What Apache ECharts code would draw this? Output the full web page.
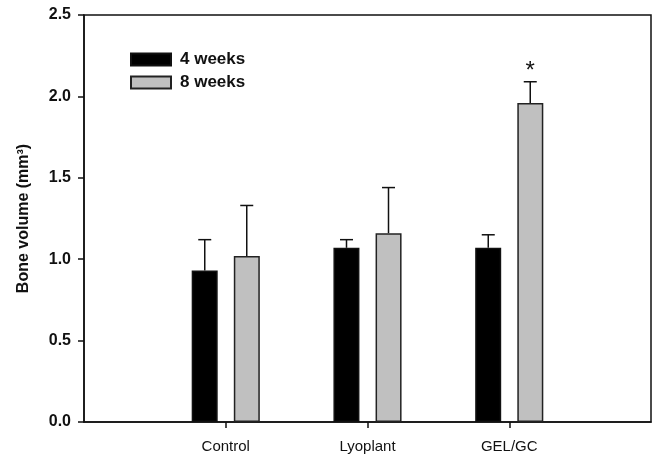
<!DOCTYPE html>
<html>
<head>
<meta charset="utf-8">
<script src="https://cdn.jsdelivr.net/npm/echarts@6/dist/echarts.min.js"></script>
<style>html,body{margin:0;padding:0;background:#fff}#chart{width:657px;height:455px}</style>
</head>
<body>
<div id="chart"></div>
<script>
// ---- data ----
var categories = ['Control', 'Lyoplant', 'GEL/GC'];
var seriesNames = ['4 weeks', '8 weeks'];
var weeks4 = [0.93, 1.07, 1.07];
var weeks4Err = [0.19, 0.05, 0.08];
var weeks8 = [1.02, 1.16, 1.96];
var weeks8Err = [0.31, 0.28, 0.13];
var weeks8Sig = ['', '', '*'];
var yTicks = [0, 0.5, 1.0, 1.5, 2.0, 2.5];

var FONT = '"Liberation Sans", Arial, sans-serif';
var axisData = [''].concat(categories, ['']);
function pad(a) { return [null].concat(a, [null]); }

var BAR_W = 26, GAP = '62%';
var offsetPx = 21;

function errSeries(vals, errs, sign, sig) {
  var data = vals.map(function (v, i) { return [i + 1, v, v + errs[i], sig ? sig[i] : '']; });
  return {
    type: 'custom',
    silent: true,
    z: 5,
    data: data,
    renderItem: function (params, api) {
      var x = api.value(0), top = api.value(2), base = api.value(1);
      var pTop = api.coord([x, top]);
      var pBase = api.coord([x, base]);
      var cx = pTop[0] + sign * offsetPx;
      var children = [
        { type: 'line', shape: { x1: cx, y1: pBase[1], x2: cx, y2: pTop[1] }, style: { stroke: '#111', lineWidth: 1.5 } },
        { type: 'line', shape: { x1: cx - 6.5, y1: pTop[1], x2: cx + 6.5, y2: pTop[1] }, style: { stroke: '#111', lineWidth: 1.5 } }
      ];
      var s = api.value(3);
      if (s) {
        children.push({ type: 'text', style: { text: s, x: cx, y: pTop[1] + 2, align: 'center', verticalAlign: 'bottom', fontSize: 24, fontFamily: FONT, fill: '#111' } });
      }
      return { type: 'group', children: children };
    }
  };
}

var chart = echarts.init(document.getElementById('chart'), null, { renderer: 'canvas' });
chart.setOption({
  animation: false,
  backgroundColor: '#fff',
  grid: { left: 84, right: 6, top: 15, bottom: 33, show: true, borderColor: '#111', borderWidth: 1.5, backgroundColor: 'transparent' },
  legend: {
    data: seriesNames,
    orient: 'vertical',
    left: 130, top: 51,
    padding: 0,
    itemWidth: 40, itemHeight: 12, itemGap: 6,
    icon: 'rect',
    textStyle: { fontFamily: FONT, fontSize: 17, fontWeight: 'bold', color: '#111', lineHeight: 17, padding: [0, 0, 0, 4] }
  },
  xAxis: {
    type: 'category',
    data: axisData,
    boundaryGap: false,
    axisLine: { lineStyle: { color: '#111', width: 1.5 } },
    axisTick: { length: 6, lineStyle: { color: '#111', width: 1.5 }, interval: function (i) { return i > 0 && i < axisData.length - 1; } },
    axisLabel: { interval: 0, margin: 17, fontFamily: FONT, fontSize: 15, color: '#111' },
    splitLine: { show: false }
  },
  yAxis: {
    type: 'value',
    min: yTicks[0], max: yTicks[yTicks.length - 1], interval: 0.5,
    name: 'Bone volume (mm³)',
    nameLocation: 'middle',
    nameGap: 52,
    nameTextStyle: { fontFamily: FONT, fontSize: 16, fontWeight: 'bold', color: '#111' },
    axisLine: { show: true, lineStyle: { color: '#111', width: 1.5 } },
    axisTick: { show: true, length: 6, lineStyle: { color: '#111', width: 1.5 } },
    axisLabel: { margin: 13, fontFamily: FONT, fontSize: 16, fontWeight: 'bold', color: '#111', formatter: function (v) { return v.toFixed(1); } },
    splitLine: { show: false }
  },
  series: [
    { name: seriesNames[0], type: 'bar', data: pad(weeks4), barWidth: BAR_W, barGap: GAP, itemStyle: { color: '#000', borderColor: '#111', borderWidth: 1.5 } },
    { name: seriesNames[1], type: 'bar', data: pad(weeks8), barWidth: BAR_W, barGap: GAP, itemStyle: { color: '#c0c0c0', borderColor: '#222', borderWidth: 1.5 } },
    errSeries(weeks4, weeks4Err, -1),
    errSeries(weeks8, weeks8Err, 1, weeks8Sig)
  ]
});
</script>
</body>
</html>
